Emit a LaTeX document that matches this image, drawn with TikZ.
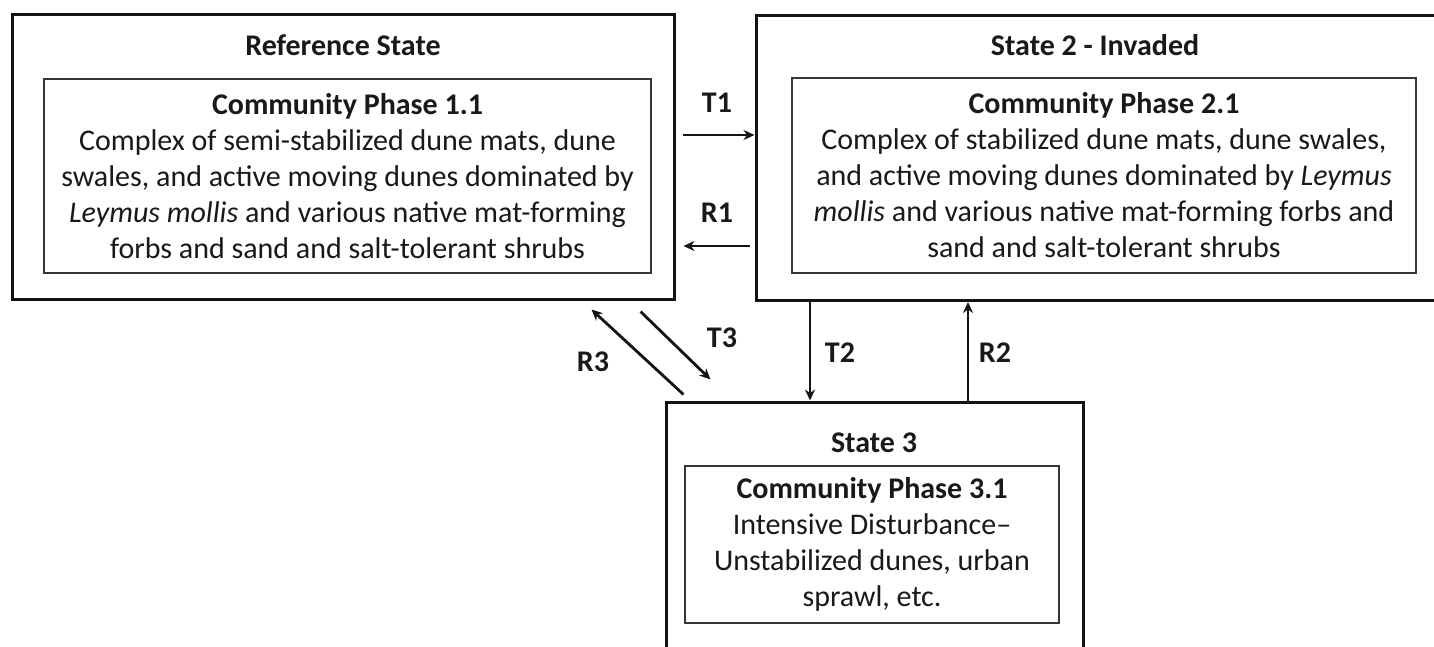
\documentclass[tikz,border=0pt]{standalone}
\usepackage{fontspec}
\setmainfont{Carlito}
\usetikzlibrary{arrows.meta}
\definecolor{ink}{RGB}{20,20,20}
\definecolor{txt}{RGB}{25,25,25}
\tikzset{
  outerbox/.style={draw=ink, line width=3pt, inner sep=0pt, fill=none},
  innerbox/.style={draw=ink!85, line width=2pt, inner sep=0pt, align=center, text=txt,
    font=\fontsize{30}{36}\selectfont},
  title/.style={font=\fontsize{30}{34}\selectfont\bfseries, text=txt, inner sep=0pt},
  lab/.style={font=\fontsize{30}{34}\selectfont\bfseries, text=txt, inner sep=0pt},
  conn/.style={draw=ink, line width=2.8pt, -{Stealth[length=11pt,width=10pt]}},
}
\begin{document}
\begin{tikzpicture}[x=1pt,y=-1pt]
\clip (0,0) rectangle (1434,646);
\fill[white] (0,0) rectangle (1434,646);
% outer state boxes
\node[outerbox, minimum width=662pt, minimum height=285pt] (s1) at (343,156.5) {};
\node[outerbox, minimum width=684pt, minimum height=285pt] (s2) at (1098,158) {};
\node[outerbox, minimum width=417pt, minimum height=268pt] (s3) at (874.5,536) {};
% titles
\node[title] (t1) at (343,45) {Reference State};
\node[title] (t2) at (1095,45) {State 2 - Invaded};
\node[title] (t3) at (874,443) {State 3};
% inner phase boxes
\node[innerbox, minimum width=607pt, minimum height=194pt] (p1) at (347.5,176) {%
\textbf{Community Phase 1.1}\\
Complex of semi-stabilized dune mats, dune\\
swales, and active moving dunes dominated by\\
\textit{Leymus mollis} and various native mat-forming\\
forbs and sand and salt-tolerant shrubs};
\node[innerbox, minimum width=624pt, minimum height=195pt] (p2) at (1104,175.5) {%
\textbf{Community Phase 2.1}\\
Complex of stabilized dune mats, dune swales,\\
and active moving dunes dominated by \textit{Leymus}\\
\textit{mollis} and various native mat-forming forbs and\\
sand and salt-tolerant shrubs};
\node[innerbox, minimum width=374pt, minimum height=157pt] (p3) at (872,544.5) {%
\textbf{Community Phase 3.1}\\
Intensive Disturbance--\\
Unstabilized dunes, urban\\
sprawl, etc.};
% transitions
\draw[conn] ([xshift=7pt]s1.east |- 0,135) -- (s2.west |- 0,135);
\draw[conn] ([xshift=-5pt]s2.west |- 0,246) -- ([xshift=8pt]s1.east |- 0,246);
\draw[conn] (s2.south -| 810,0) -- (s3.north -| 810,0);
\draw[conn] (s3.north -| 968,0) -- (s2.south -| 968,0);
\draw[conn] ([shift={(-24,-89)}]s3.north west) -- ([shift={(46,-21)}]s3.north west);
\draw[conn] ([shift={(19,-6)}]s3.north west) -- ([shift={(-73,-91)}]s3.north west);
% labels
\node[lab] (lt1) at (717,103) {T1};
\node[lab] (lr1) at (717,213) {R1};
\node[lab] (lt2) at (840,353) {T2};
\node[lab] (lr2) at (995,353) {R2};
\node[lab] (lt3) at (722,338) {T3};
\node[lab] (lr3) at (593,362) {R3};
\end{tikzpicture}
\end{document}
